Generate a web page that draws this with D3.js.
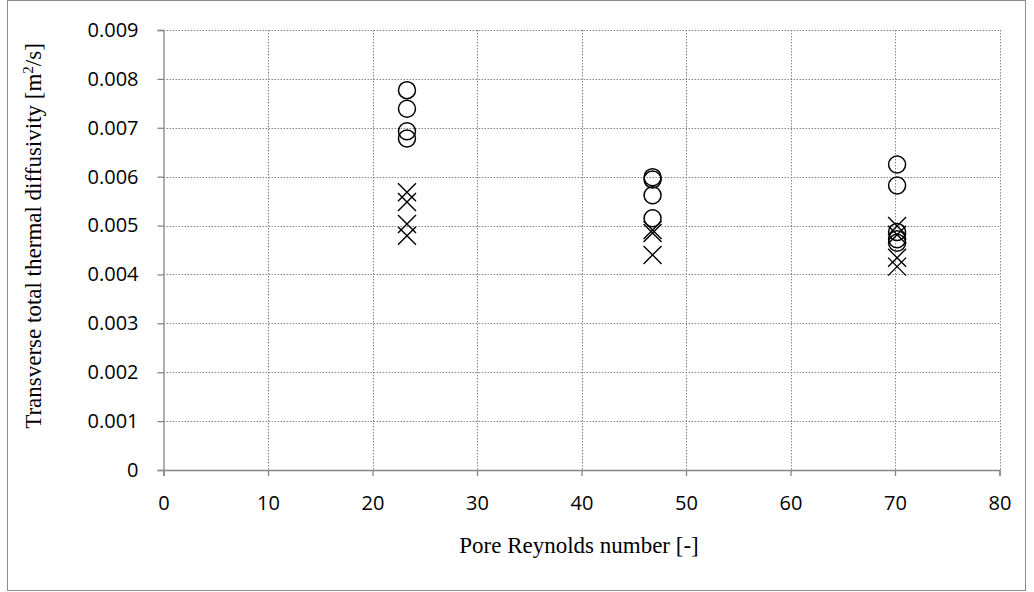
<!DOCTYPE html>
<html>
<head>
<meta charset="utf-8">
<script src="https://cdn.jsdelivr.net/npm/d3@7"></script>
<style>
  body { margin: 0; background: #fff; }
  .tick text { font-family: "Open Sans", "Liberation Sans", sans-serif; font-size: 20px; fill: #000; }
  .title { font-family: "Liberation Serif", "DejaVu Serif", serif; font-size: 23px; fill: #000; }
</style>
</head>
<body>
<div class="chart"></div>
<script>
// data (pore Reynolds number, diffusivity in m2/s)
const circleX = [23.3, 23.3, 23.3, 23.3, 46.8, 46.8, 46.8, 46.8, 70.2, 70.2, 70.2, 70.2, 70.2];
const circleY = [0.00777, 0.00739, 0.00693, 0.00678, 0.00599, 0.00594, 0.00562, 0.00515, 0.00625, 0.00582, 0.00487, 0.00472, 0.00465];
const crossX = [23.3, 23.3, 23.3, 23.3, 46.8, 46.8, 46.8, 70.2, 70.2, 70.2, 70.2];
const crossY = [0.00568, 0.00548, 0.00503, 0.00479, 0.00491, 0.00485, 0.00440, 0.00499, 0.00481, 0.00434, 0.00416];
const xTicks = [0, 10, 20, 30, 40, 50, 60, 70, 80];
const yTicks = [0, 0.001, 0.002, 0.003, 0.004, 0.005, 0.006, 0.007, 0.008, 0.009];

// setup chart
const width = 1034;
const height = 592;
const plotLeft = 163.5;
const plotRight = 999.5;
const plotTop = 30;
const plotBottom = 470;

const svg = d3.select(".chart")
   .append("svg")
   .attr("width", width)
   .attr("height", height);

// outer frame
svg.append("rect")
   .attr("x", 7.5)
   .attr("y", 0.5)
   .attr("width", 1018)
   .attr("height", 590)
   .attr("fill", "none")
   .attr("stroke", "#8c8c8c")
   .attr("stroke-width", 1);

const xScale = d3.scaleLinear().domain([0, 80]).range([plotLeft, plotRight]);
const yScale = d3.scaleLinear().domain([0, 0.009]).range([plotBottom, plotTop]);

// grid
svg.append("g")
   .selectAll("line")
   .data(yTicks.slice(1))
   .enter()
   .append("line")
   .attr("x1", plotLeft)
   .attr("x2", plotRight)
   .attr("y1", (d) => Math.round(yScale(d)) + 0.5)
   .attr("y2", (d) => Math.round(yScale(d)) + 0.5)
   .attr("stroke", "#868686")
   .attr("stroke-dasharray", "1.5,1.5");
svg.append("g")
   .selectAll("line")
   .data(xTicks.slice(1))
   .enter()
   .append("line")
   .attr("x1", (d) => Math.round(xScale(d)) + 0.5)
   .attr("x2", (d) => Math.round(xScale(d)) + 0.5)
   .attr("y1", plotTop)
   .attr("y2", plotBottom)
   .attr("stroke", "#868686")
   .attr("stroke-dasharray", "1.5,1.5");

// axes
const xAxis = d3.axisBottom(xScale).tickValues(xTicks).tickSize(6).tickPadding(20).tickFormat(d3.format("d"));
const yAxis = d3.axisLeft(yScale).tickValues(yTicks).tickSize(6).tickPadding(19)
   .tickFormat((d) => d === 0 ? "0" : d3.format(".3f")(d));

const gx = svg.append("g")
   .attr("transform", `translate(0, ${plotBottom})`)
   .call(xAxis);
const gy = svg.append("g")
   .attr("transform", `translate(${plotLeft}, 0)`)
   .call(yAxis);
[gx, gy].forEach((g) => {
   g.select(".domain").attr("stroke", "#868686").attr("stroke-width", 1.3);
   g.selectAll(".tick line").attr("stroke", "#868686").attr("stroke-width", 1.3);
});

// markers
svg.append("g")
   .selectAll("circle")
   .data(circleX.map((x, i) => ({ x, y: circleY[i] })))
   .enter()
   .append("circle")
   .attr("cx", (d) => xScale(d.x))
   .attr("cy", (d) => yScale(d.y))
   .attr("r", 8.5)
   .attr("fill", "none")
   .attr("stroke", "#000")
   .attr("stroke-width", 1.5);

const s = 9;
svg.append("g")
   .selectAll("path")
   .data(crossX.map((x, i) => ({ x, y: crossY[i] })))
   .enter()
   .append("path")
   .attr("transform", (d) => `translate(${xScale(d.x)}, ${yScale(d.y)})`)
   .attr("d", `M${-s},${-s}L${s},${s}M${-s},${s}L${s},${-s}`)
   .attr("stroke", "#000")
   .attr("stroke-width", 1.4)
   .attr("fill", "none");

// titles
svg.append("text")
   .attr("class", "title")
   .attr("x", 579)
   .attr("y", 553)
   .attr("text-anchor", "middle")
   .text("Pore Reynolds number [-]");

const yTitle = svg.append("text")
   .attr("class", "title")
   .attr("transform", `translate(41, 236) rotate(-90)`)
   .attr("text-anchor", "middle");
yTitle.append("tspan").text("Transverse total thermal diffusivity [m");
yTitle.append("tspan").attr("dy", -8).attr("font-size", 15).text("2");
yTitle.append("tspan").attr("dy", 8).text("/s]");
</script>
</body>
</html>
